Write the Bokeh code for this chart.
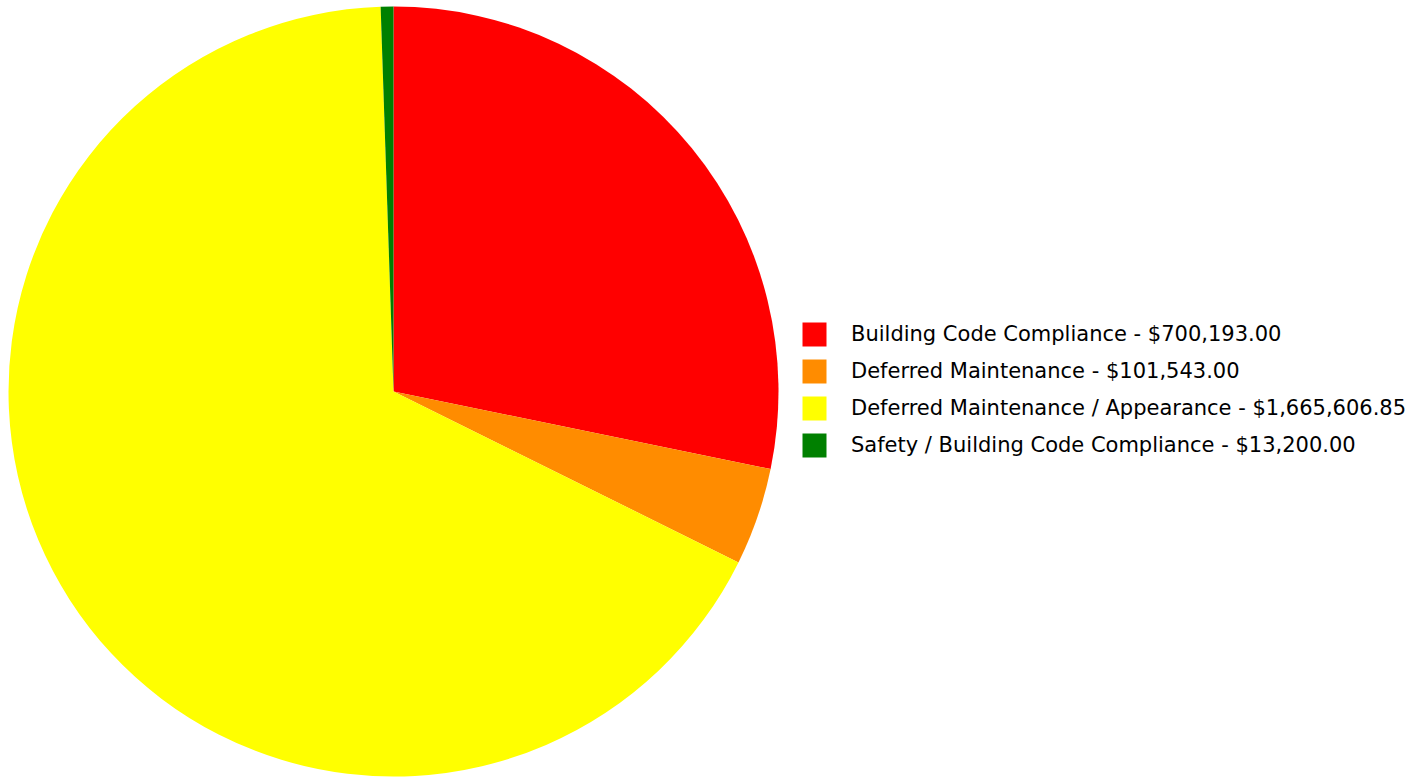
import math
from bokeh.plotting import figure
from bokeh.models import Range1d, ColumnDataSource, Legend, LegendItem
from bokeh.embed import file_html
from bokeh.resources import INLINE

categories = ["Building Code Compliance", "Deferred Maintenance",
              "Deferred Maintenance / Appearance", "Safety / Building Code Compliance"]
amounts = [700193.00, 101543.00, 1665606.85, 13200.00]
colors = ["#ff0000", "#ff8c00", "#ffff00", "#008000"]

W, H = 1427, 777
CX, CY, R = 393, H - 391, 385

total = sum(amounts)
starts, ends = [], []
a = math.pi / 2
for v in amounts:
    starts.append(a)
    a -= v / total * 2 * math.pi
    ends.append(a)

labels = [f"{c} - ${v:,.2f}" for c, v in zip(categories, amounts)]

p = figure(width=W, height=H, output_backend="svg", toolbar_location=None,
           x_range=Range1d(0, W), y_range=Range1d(0, H), min_border=0,
           outline_line_color=None, background_fill_color="white")
p.axis.visible = False
p.grid.visible = False

items = []
for i in range(len(amounts)):
    src = ColumnDataSource(dict(x=[CX], y=[CY], s=[starts[i]], e=[ends[i]]))
    r = p.wedge(x="x", y="y", radius=R, start_angle="s", end_angle="e",
                direction="clock", fill_color=colors[i], line_color=None, source=src)
    items.append(LegendItem(label=labels[i], renderers=[r]))

legend = Legend(items=items, location=(799, H - 460), border_line_color=None,
                background_fill_alpha=0, glyph_width=30, glyph_height=30,
                label_standoff=22, spacing=7, padding=0, margin=0,
                label_text_font="DejaVu Sans", label_text_font_size="21px",
                label_text_color="black",
                label_height=30, label_text_baseline="middle")
p.add_layout(legend)

open("out.html", "w").write(file_html(p, INLINE))
